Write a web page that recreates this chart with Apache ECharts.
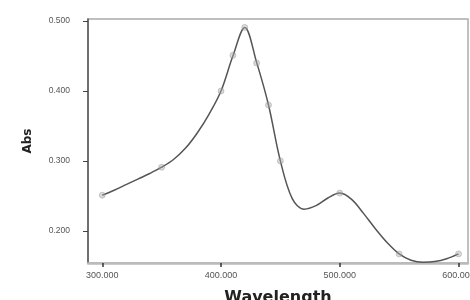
<!DOCTYPE html>
<html>
<head>
<meta charset="utf-8">
<script src="https://cdn.jsdelivr.net/npm/echarts@6/dist/echarts.min.js"></script>
<style>
  html, body { margin: 0; padding: 0; background: #fff; }
</style>
</head>
<body>
<div id="echars" style="width: 470px; height: 300px"></div>
<script>
// spectrum curve
var wavelength = [300, 310, 320, 330, 340, 350, 360, 370, 380, 390, 400, 410, 420, 430, 440, 450,
  460, 470, 480, 490, 500, 510, 520, 530, 540, 550, 560, 570, 580, 590, 600];
var absorb = [0.251, 0.258, 0.266, 0.274, 0.282, 0.291, 0.302, 0.318, 0.340, 0.367, 0.400, 0.450,
  0.491, 0.441, 0.380, 0.300, 0.246, 0.231, 0.236, 0.247, 0.254, 0.245, 0.225, 0.203, 0.183,
  0.167, 0.158, 0.155, 0.156, 0.160, 0.167];
// measured points (markers)
var markX = [300, 350, 400, 410, 420, 430, 440, 450, 500, 550, 600];
var markY = [0.251, 0.291, 0.400, 0.451, 0.491, 0.440, 0.380, 0.300, 0.254, 0.167, 0.167];
var xTicks = [300, 400, 500, 600];
var yTicks = [0.2, 0.3, 0.4, 0.5];

var myChart = echarts.init(document.getElementById("echars"));
var options = {
  backgroundColor: "#fff",
  animation: false,
  grid: {
    left: 88,
    top: 19,
    right: 2,
    bottom: 37,
    containLabel: false,
    outerBoundsMode: "none",
    show: true,
    borderColor: "#aaa",
    borderWidth: 1.5,
  },
  xAxis: {
    type: "value",
    min: 288,
    max: 608,
    name: "Wavelength",
    nameLocation: "middle",
    nameGap: 27,
    nameTextStyle: { fontFamily: "DejaVu Sans", fontWeight: "bold", fontSize: 16, color: "#222" },
    axisLine: { lineStyle: { color: "#bbb", width: 2.5 } },
    axisTick: { customValues: xTicks, length: 4, inside: false, lineStyle: { color: "#333", width: 1.5 } },
    axisLabel: {
      customValues: xTicks,
      formatter: function (v) { return v.toFixed(3); },
      fontSize: 9,
      color: "#555",
      margin: 8,
    },
    splitLine: { show: false },
  },
  yAxis: {
    type: "value",
    min: 0.154,
    max: 0.503,
    name: "Abs",
    nameLocation: "middle",
    nameGap: 54,
    nameRotate: 90,
    nameTextStyle: { fontFamily: "DejaVu Sans", fontWeight: "bold", fontSize: 12, color: "#222" },
    axisLine: { show: true, lineStyle: { color: "#555", width: 1.5 } },
    axisTick: { show: true, customValues: yTicks, length: 5, lineStyle: { color: "#444", width: 1 } },
    axisLabel: {
      customValues: yTicks,
      formatter: function (v) { return v.toFixed(3); },
      fontSize: 8.5,
      color: "#555",
      margin: 18,
    },
    splitLine: { show: false },
  },
  series: [
    {
      type: "line",
      data: wavelength.map(function (w, i) { return [w, absorb[i]]; }),
      smooth: 0.35,
      showSymbol: false,
      lineStyle: { color: "#555", width: 1.5 },
      z: 2,
    },
    {
      type: "scatter",
      data: markX.map(function (w, i) { return [w, markY[i]]; }),
      symbol: "circle",
      symbolSize: 6,
      itemStyle: { color: "rgba(170,170,170,0.55)", borderColor: "rgba(140,140,140,0.6)", borderWidth: 0.8 },
      z: 3,
    },
  ],
};
options && myChart.setOption(options);
</script>
</body>
</html>
